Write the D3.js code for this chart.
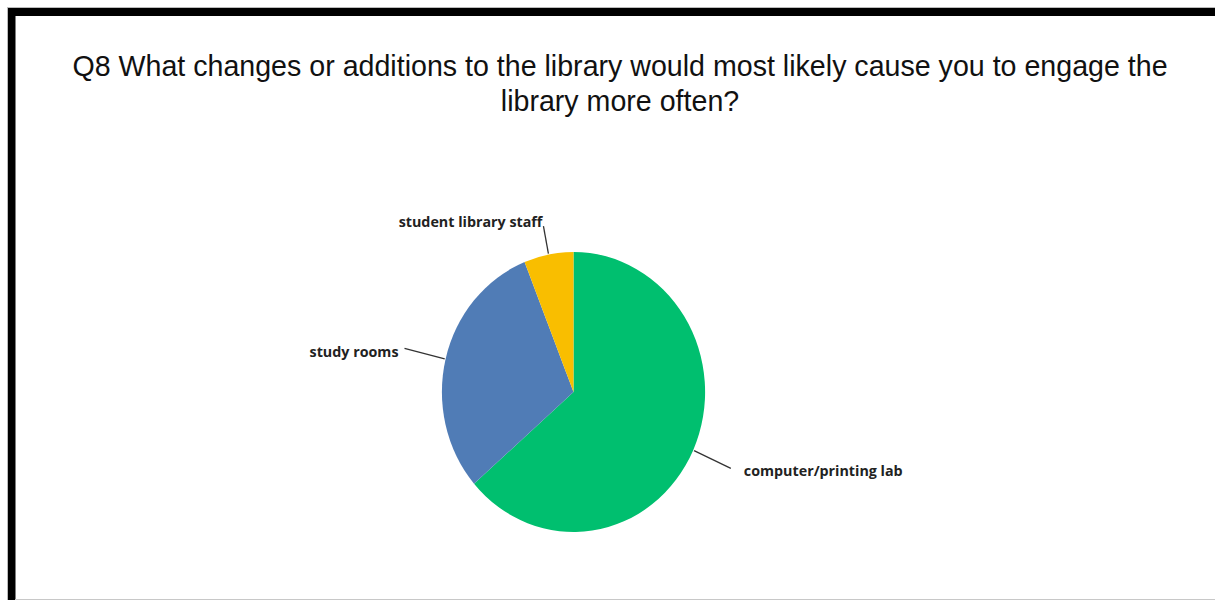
<!DOCTYPE html>
<html>
<head>
<meta charset="utf-8">
<script src="https://cdn.jsdelivr.net/npm/d3@7/dist/d3.min.js"></script>
<style>
  html, body { margin: 0; padding: 0; background: #fff; }
  svg { display: block; }
</style>
</head>
<body>
<svg id="chart" width="1215" height="600"></svg>
<script>
// Survey answers for Q8
const categories = ["computer/printing lab", "study rooms", "student library staff"];
const responses = [21, 10, 2];
const colors = ["#00bf6f", "#507cb6", "#f9be00"];
const titleLines = [
  "Q8 What changes or additions to the library would most likely cause you to engage the",
  "library more often?"
];

const W = 1215, H = 600;
const svg = d3.select("#chart");

// frame: thin grey outline with a heavy black top and left edge
svg.append("rect").attr("x", 0).attr("y", 0).attr("width", W).attr("height", H).attr("fill", "#fff");
svg.append("line").attr("x1", 7).attr("x2", W).attr("y1", 7.5).attr("y2", 7.5).attr("stroke", "#bbb").attr("stroke-width", 1);
svg.append("line").attr("x1", 7.5).attr("x2", 7.5).attr("y1", 7).attr("y2", H).attr("stroke", "#bbb").attr("stroke-width", 1);
svg.append("rect").attr("x", 8).attr("y", 8).attr("width", W - 8).attr("height", 8).attr("fill", "#000");
svg.append("rect").attr("x", 8).attr("y", 8).attr("width", 7.5).attr("height", H - 8).attr("fill", "#000");
svg.append("line").attr("x1", 15).attr("x2", W).attr("y1", 599.5).attr("y2", 599.5).attr("stroke", "#c8c8c8").attr("stroke-width", 1);

// title
svg.append("text")
  .attr("x", 620).attr("y", 76)
  .attr("text-anchor", "middle")
  .attr("font-family", "Liberation Sans, Arial, sans-serif")
  .attr("font-size", 28.6)
  .attr("fill", "#111")
  .selectAll("tspan").data(titleLines).join("tspan")
  .attr("x", 620)
  .attr("dy", (d, i) => i === 0 ? 0 : 35)
  .text(d => d);

// pie
const cx = 573.5, cy = 392, R = 140, squeeze = 0.94;
const pie = d3.pie().sort(null).value(d => d.v);
const slices = pie(categories.map((c, i) => ({ c, v: responses[i], col: colors[i] })));
const arc = d3.arc().innerRadius(0).outerRadius(R);

const g = svg.append("g").attr("transform", `translate(${cx},${cy}) scale(${squeeze},1)`);
g.selectAll("path").data(slices).join("path")
  .attr("d", arc)
  .attr("fill", d => d.data.col);

// leader lines and labels
const leader = {
  "computer/printing lab": { len: 184, dx: 13, dy: 3, anchor: "start" },
  "study rooms": { len: 185, dx: -6, dy: 4, anchor: "end" },
  "student library staff": { len: 169, dx: -1, dy: -4, anchor: "end" }
};
const pt = (a, r) => [cx + Math.sin(a) * r * squeeze, cy - Math.cos(a) * r];

slices.forEach(s => {
  const mid = (s.startAngle + s.endAngle) / 2;
  const L = leader[s.data.c];
  const p0 = pt(mid, R + 1);
  const p1 = pt(mid, L.len);
  svg.append("line")
    .attr("x1", p0[0]).attr("y1", p0[1])
    .attr("x2", p1[0]).attr("y2", p1[1])
    .attr("stroke", "#333").attr("stroke-width", 1.3);
  svg.append("text")
    .attr("x", p1[0] + L.dx).attr("y", p1[1] + L.dy)
    .attr("dy", "0.35em")
    .attr("text-anchor", L.anchor)
    .attr("font-family", "Open Sans, sans-serif")
    .attr("font-weight", 700)
    .attr("font-size", 14.3)
    .attr("fill", "#222")
    .text(s.data.c);
});
</script>
</body>
</html>
